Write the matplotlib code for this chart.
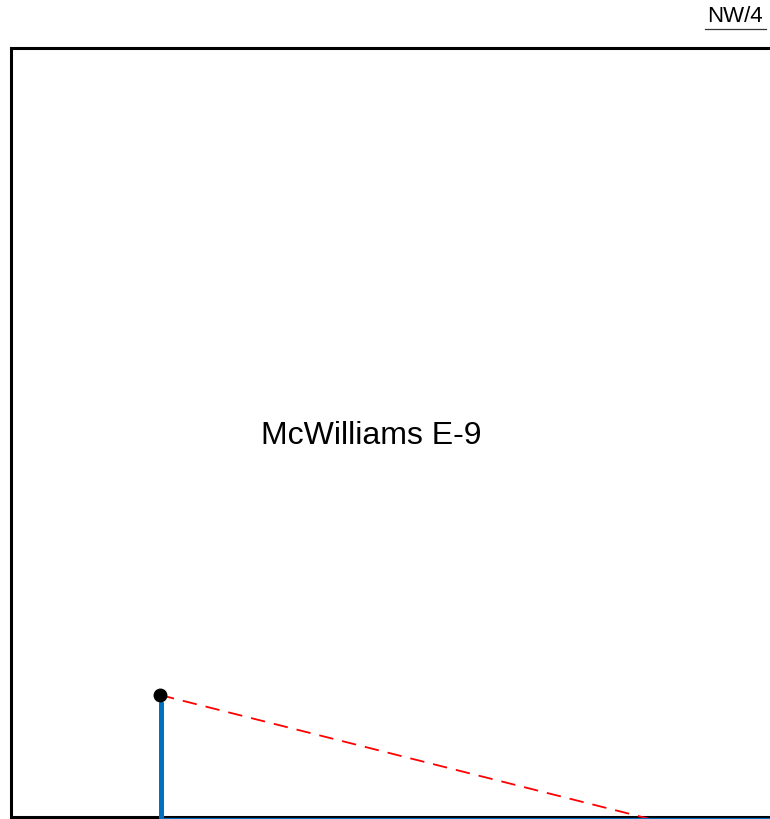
import matplotlib
matplotlib.use("Agg")
import matplotlib.pyplot as plt

# Data (pixel-space map coordinates)
boundary_x = [770, 11, 11, 770]
boundary_y = [48, 48, 816.5, 816.5]
well_x = [160]
well_y = [695]
lateral_x = [161, 161, 770]
lateral_y = [703, 818.5, 818.5]
dir_x = [160, 650]
dir_y = [695, 819]
label_text = "McWilliams E-9"
label_pos = (371, 444)
corner_text = "NW/4"
corner_pos = (735, 21.5)
underline_x = [705, 766]
underline_y = [28.5, 28.5]

fig = plt.figure(figsize=(7.7, 8.19), dpi=100)
ax = fig.add_axes([0, 0, 1, 1])
ax.set_xlim(0, 770)
ax.set_ylim(819, 0)
ax.axis("off")

ax.plot(boundary_x, boundary_y, color="black", lw=2.2, solid_capstyle="projecting", solid_joinstyle="miter")
ax.plot(dir_x, dir_y, color="red", lw=1.3, dashes=(8, 5))
ax.plot(lateral_x, lateral_y, color="#0070C0", lw=1.6)
ax.plot(lateral_x[:2], lateral_y[:2], color="#0070C0", lw=3.6, solid_capstyle="round")
ax.plot(well_x, well_y, "o", color="black", ms=9)
ax.text(*label_pos, label_text, ha="center", va="baseline", fontsize=23, family="Liberation Sans")
ax.text(*corner_pos, corner_text, ha="center", va="baseline", fontsize=16, family="Liberation Sans")
ax.plot(underline_x, underline_y, color="#333333", lw=0.9)

fig.savefig("out.png", dpi=100)
